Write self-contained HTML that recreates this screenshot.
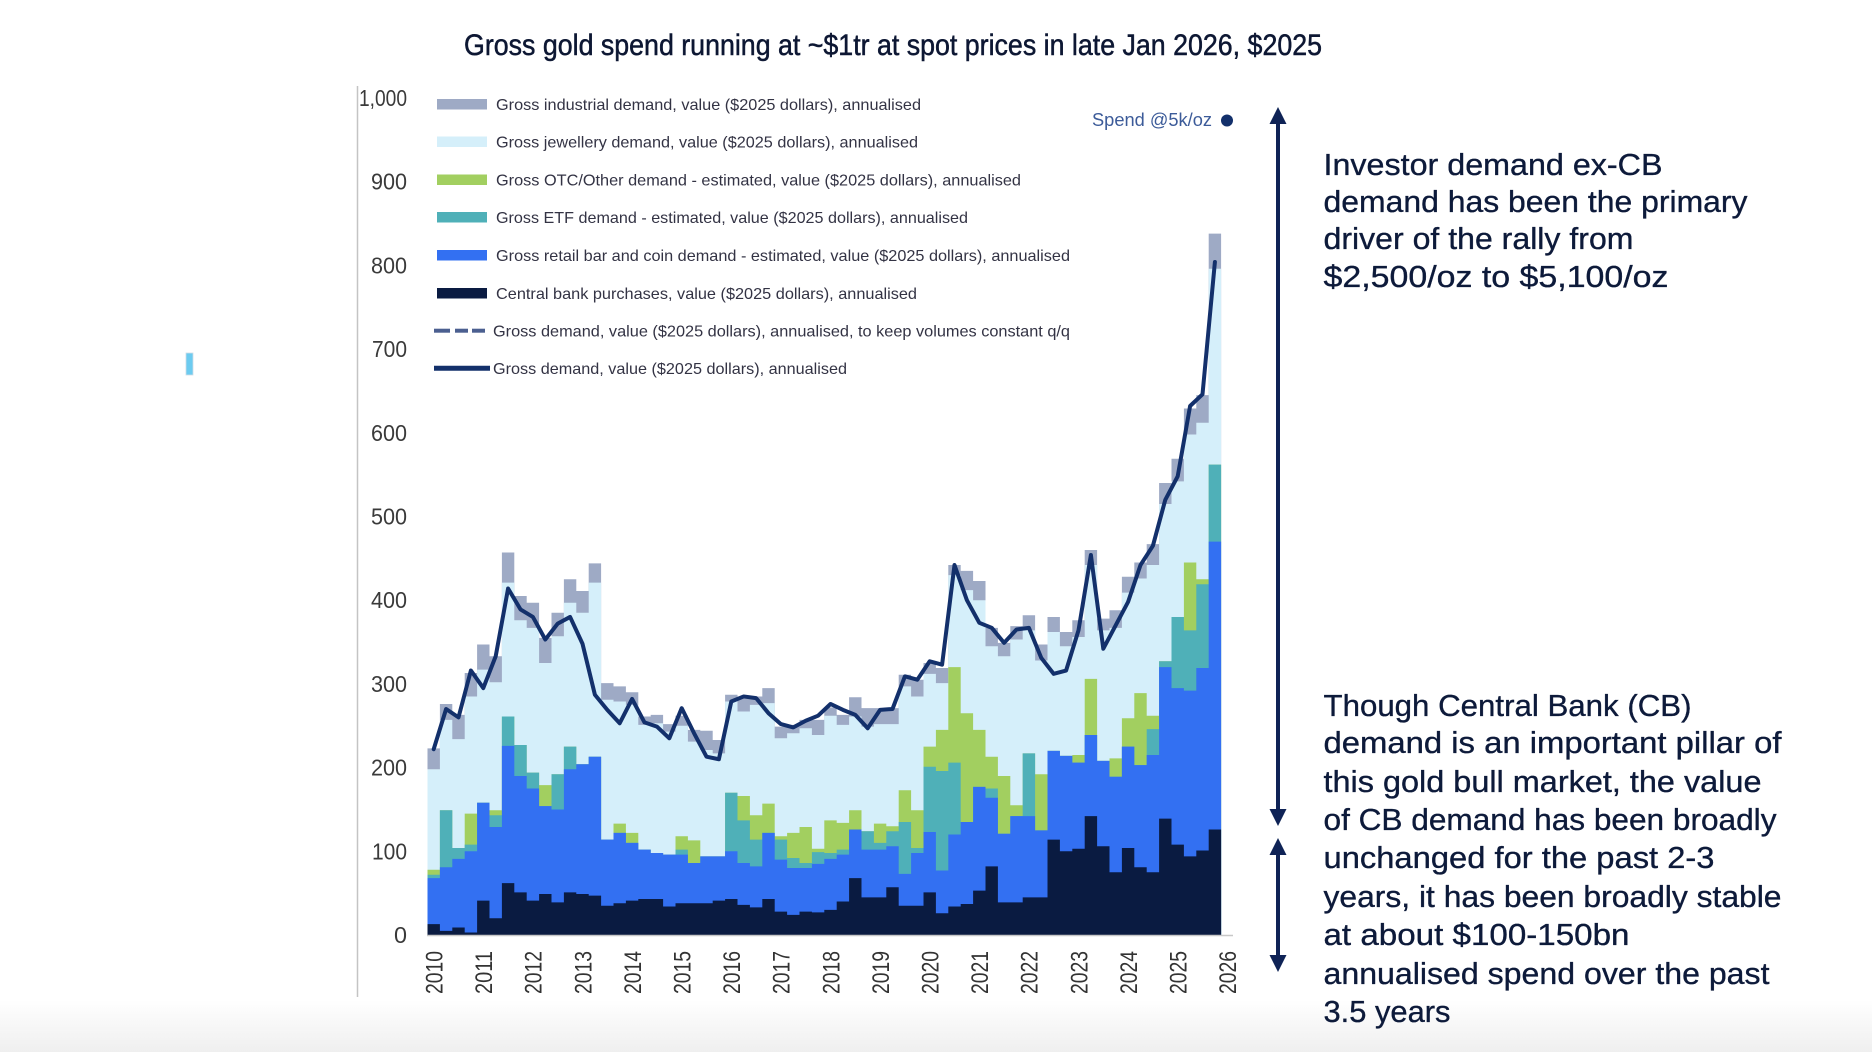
<!DOCTYPE html>
<html>
<head>
<meta charset="utf-8">
<style>
html,body{margin:0;padding:0;background:#ffffff;}
body{width:1872px;height:1052px;overflow:hidden;}
svg{display:block;}
</style>
</head>
<body>
<svg width="1872" height="1052" viewBox="0 0 1872 1052" xmlns="http://www.w3.org/2000/svg">
  <defs>
    <linearGradient id="bot" x1="0" y1="0" x2="0" y2="1">
      <stop offset="0" stop-color="#ffffff"/>
      <stop offset="0.5" stop-color="#f7f7f7"/>
      <stop offset="1" stop-color="#efefef"/>
    </linearGradient>
  </defs>
  <rect x="0" y="0" width="1872" height="1052" fill="#ffffff"/>
  <rect x="0" y="1000" width="1872" height="52" fill="url(#bot)"/>

  <!-- small blue mark -->
  <rect x="186" y="353" width="7" height="22" fill="#6ccbf0" stroke="#cfdde6" stroke-width="0.8"/>

  <!-- Title -->
  <text x="464" y="55" font-family="Liberation Sans, sans-serif" font-size="30" fill="#0d1733" stroke="#0d1733" stroke-width="0.5" textLength="858" lengthAdjust="spacingAndGlyphs">Gross gold spend running at ~$1tr at spot prices in late Jan 2026, $2025</text>

  <!-- Y axis line -->
  <line x1="357.5" y1="86" x2="357.5" y2="997" stroke="#c4c4c4" stroke-width="1.5"/>

  <!-- Y labels -->
  <g font-family="Liberation Sans, sans-serif" font-size="23" fill="#3a3a3a" text-anchor="end">
    <text x="407" y="943" textLength="13" lengthAdjust="spacingAndGlyphs">0</text>
    <text x="407" y="859.3" textLength="35" lengthAdjust="spacingAndGlyphs">100</text>
    <text x="407" y="775.6" textLength="36" lengthAdjust="spacingAndGlyphs">200</text>
    <text x="407" y="691.9" textLength="36" lengthAdjust="spacingAndGlyphs">300</text>
    <text x="407" y="608.2" textLength="36" lengthAdjust="spacingAndGlyphs">400</text>
    <text x="407" y="524.5" textLength="36" lengthAdjust="spacingAndGlyphs">500</text>
    <text x="407" y="440.8" textLength="36" lengthAdjust="spacingAndGlyphs">600</text>
    <text x="407" y="357.1" textLength="35" lengthAdjust="spacingAndGlyphs">700</text>
    <text x="407" y="273.4" textLength="36" lengthAdjust="spacingAndGlyphs">800</text>
    <text x="407" y="189.7" textLength="36" lengthAdjust="spacingAndGlyphs">900</text>
    <text x="407" y="106" textLength="48" lengthAdjust="spacingAndGlyphs">1,000</text>
  </g>

  <!-- Bars -->
  <g transform="translate(427.5 935) scale(12.4 -0.837)">
    <path fill="#9eaac5" d="M0 0V223H1V276H2V263H3V313H4V347H5V333H6V457H7V405H8V397H9V355H10V385H11V425H12V411H13V444H14V301H15V297H16V290H17V261H18V263H19V252H20V262H21V245H22V244H23V233H24V287H25V285H26V285H27V295H28V249H29V251H30V257H31V257H32V272H33V263H34V284H35V271H36V271H37V271H38V311H39V305H40V325H41V319H42V442H43V435H44V423H45V367H46V349H47V369H48V382H49V347H50V380H51V362H52V376H53V460H54V378H55V388H56V428H57V445H58V467H59V540H60V569H61V629H62V645H63V838H64V0Z"/>
    <path fill="#d5effa" d="M0 0V198H1V257H2V234H3V285H4V317H5V302H6V421H7V376H8V367H9V325H10V357H11V397H12V385H13V421H14V281H15V279H16V275H17V251H18V253H19V243H20V250H21V231H22V221H23V217H24V279H25V267H26V275H27V277H28V235H29V241H30V247H31V239H32V262H33V251H34V261H35V249H36V252H37V252H38V297H39V285H40V312H41V301H42V430H43V412H44V400H45V345H46V333H47V353H48V364H49V328H50V362H51V345H52V356H53V442H54V364H55V367H56V409H57V426H58V442H59V515H60V542H61V598H62V612H63V796H64V0Z"/>
    <path fill="#a2cf60" d="M0 0V78H1V149H2V104H3V145H4V158H5V149H6V261H7V227H8V194H9V179H10V192H11V225H12V204H13V213H14V114H15V133H16V122H17V102H18V98H19V96H20V118H21V113H22V94H23V94H24V170H25V166H26V143H27V157H28V118H29V122H30V129H31V103H32V137H33V134H34V149H35V124H36V133H37V130H38V173H39V149H40V225H41V245H42V320H43V265H44V245H45V213H46V190H47V155H48V217H49V192H50V220H51V214H52V215H53V306H54V208H55V211H56V259H57V289H58V262H59V327H60V380H61V445H62V425H63V562H64V0Z"/>
    <path fill="#4fb0b8" d="M0 0V72H1V149H2V104H3V108H4V158H5V143H6V261H7V227H8V194H9V154H10V192H11V225H12V204H13V213H14V114H15V122H16V110H17V102H18V98H19V96H20V102H21V86H22V94H23V94H24V170H25V137H26V114H27V122H28V114H29V92H30V86H31V99H32V98H33V102H34V126H35V124H36V110H37V124H38V135H39V104H40V201H41V196H42V206H43V135H44V177H45V175H46V121H47V142H48V217H49V125H50V220H51V214H52V206H53V239H54V208H55V189H56V225H57V203H58V246H59V327H60V380H61V364H62V419H63V562H64V0Z"/>
    <path fill="#3370f2" d="M0 0V68H1V81H2V91H3V100H4V158H5V129H6V226H7V190H8V175H9V154H10V150H11V198H12V204H13V213H14V114H15V122H16V110H17V102H18V98H19V96H20V96H21V86H22V94H23V94H24V100H25V86H26V82H27V122H28V90H29V80H30V80H31V85H32V91H33V96H34V126H35V102H36V102H37V106H38V73H39V98H40V123H41V77H42V120H43V135H44V177H45V164H46V121H47V142H48V142H49V125H50V220H51V214H52V206H53V239H54V208H55V189H56V225H57V203H58V215H59V320H60V295H61V292H62V319H63V470H64V0Z"/>
    <path fill="#0a1b41" d="M0 0V13H1V5H2V9H3V3H4V41H5V20H6V62H7V51H8V41H9V49H10V39H11V51H12V49H13V47H14V35H15V38H16V41H17V43H18V43H19V34H20V38H21V38H22V38H23V41H24V43H25V36H26V33H27V43H28V28H29V24H30V28H31V27H32V30H33V40H34V68H35V45H36V45H37V57H38V35H39V35H40V51H41V26H42V34H43V37H44V53H45V82H46V39H47V39H48V45H49V45H50V114H51V100H52V103H53V142H54V106H55V75H56V104H57V81H58V75H59V139H60V108H61V94H62V101H63V126H64V0Z"/>
    <polyline fill="none" stroke="#13306b" stroke-width="4" stroke-linejoin="round" stroke-linecap="round" vector-effect="non-scaling-stroke"
      points="0.5,222 1.5,270 2.5,260 3.5,316 4.5,295 5.5,333 6.5,414 7.5,389 8.5,380 9.5,353 10.5,372 11.5,380 12.5,348 13.5,287 14.5,269 15.5,253 16.5,282 17.5,254 18.5,249 19.5,235 20.5,271 21.5,241 22.5,213 23.5,210 24.5,279 25.5,285 26.5,283 27.5,265 28.5,252 29.5,248 30.5,256 31.5,262 32.5,276 33.5,269 34.5,263 35.5,247 36.5,269 37.5,270 38.5,309 39.5,305 40.5,327 41.5,323 42.5,442 43.5,400 44.5,373 45.5,367 46.5,349 47.5,365 48.5,367 49.5,331 50.5,312 51.5,316 52.5,364 53.5,454 54.5,342 55.5,370 56.5,398 57.5,442 58.5,465 59.5,520 60.5,548 61.5,632 62.5,646 63.5,804"/>
  </g>

  <!-- X baseline -->
  <line x1="427" y1="935.5" x2="1233" y2="935.5" stroke="#c8c8c8" stroke-width="1.5"/>

  <!-- X labels -->
  <g font-family="Liberation Sans, sans-serif" font-size="24" fill="#333333" text-anchor="end">
    <text transform="translate(442.5 951) rotate(-90)" textLength="43" lengthAdjust="spacingAndGlyphs">2010</text>
    <text transform="translate(492.1 951) rotate(-90)" textLength="43" lengthAdjust="spacingAndGlyphs">2011</text>
    <text transform="translate(541.7 951) rotate(-90)" textLength="43" lengthAdjust="spacingAndGlyphs">2012</text>
    <text transform="translate(591.3 951) rotate(-90)" textLength="43" lengthAdjust="spacingAndGlyphs">2013</text>
    <text transform="translate(640.9 951) rotate(-90)" textLength="43" lengthAdjust="spacingAndGlyphs">2014</text>
    <text transform="translate(690.5 951) rotate(-90)" textLength="43" lengthAdjust="spacingAndGlyphs">2015</text>
    <text transform="translate(740.1 951) rotate(-90)" textLength="43" lengthAdjust="spacingAndGlyphs">2016</text>
    <text transform="translate(789.7 951) rotate(-90)" textLength="43" lengthAdjust="spacingAndGlyphs">2017</text>
    <text transform="translate(839.3 951) rotate(-90)" textLength="43" lengthAdjust="spacingAndGlyphs">2018</text>
    <text transform="translate(888.9 951) rotate(-90)" textLength="43" lengthAdjust="spacingAndGlyphs">2019</text>
    <text transform="translate(938.5 951) rotate(-90)" textLength="43" lengthAdjust="spacingAndGlyphs">2020</text>
    <text transform="translate(988.1 951) rotate(-90)" textLength="43" lengthAdjust="spacingAndGlyphs">2021</text>
    <text transform="translate(1037.7 951) rotate(-90)" textLength="43" lengthAdjust="spacingAndGlyphs">2022</text>
    <text transform="translate(1087.3 951) rotate(-90)" textLength="43" lengthAdjust="spacingAndGlyphs">2023</text>
    <text transform="translate(1136.9 951) rotate(-90)" textLength="43" lengthAdjust="spacingAndGlyphs">2024</text>
    <text transform="translate(1186.5 951) rotate(-90)" textLength="43" lengthAdjust="spacingAndGlyphs">2025</text>
    <text transform="translate(1236.1 951) rotate(-90)" textLength="43" lengthAdjust="spacingAndGlyphs">2026</text>
  </g>

  <!-- Legend -->
  <g>
    <rect x="437" y="99" width="50" height="10.5" fill="#9eaac5"/>
    <rect x="437" y="136.5" width="50" height="10.5" fill="#d5effa"/>
    <rect x="437" y="174.5" width="50" height="10.5" fill="#a2cf60"/>
    <rect x="437" y="212" width="50" height="10.5" fill="#4fb0b8"/>
    <rect x="437" y="250" width="50" height="10.5" fill="#3370f2"/>
    <rect x="437" y="288" width="50" height="10.5" fill="#0a1b41"/>
    <line x1="434" y1="330.7" x2="450" y2="330.7" stroke="#4b5f90" stroke-width="4"/>
    <line x1="455" y1="330.7" x2="468" y2="330.7" stroke="#4b5f90" stroke-width="4"/>
    <line x1="472" y1="330.7" x2="485" y2="330.7" stroke="#4b5f90" stroke-width="4"/>
    <line x1="434" y1="368.3" x2="490" y2="368.3" stroke="#13306b" stroke-width="5"/>
  </g>
  <g font-family="Liberation Sans, sans-serif" font-size="16" fill="#333344">
    <text x="496" y="110" textLength="425" lengthAdjust="spacingAndGlyphs">Gross industrial demand, value ($2025 dollars), annualised</text>
    <text x="496" y="147.5" textLength="422" lengthAdjust="spacingAndGlyphs">Gross jewellery demand, value ($2025 dollars), annualised</text>
    <text x="496" y="185.5" textLength="525" lengthAdjust="spacingAndGlyphs">Gross OTC/Other demand - estimated, value ($2025 dollars), annualised</text>
    <text x="496" y="223" textLength="472" lengthAdjust="spacingAndGlyphs">Gross ETF demand - estimated, value ($2025 dollars), annualised</text>
    <text x="496" y="261" textLength="574" lengthAdjust="spacingAndGlyphs">Gross retail bar and coin demand - estimated, value ($2025 dollars), annualised</text>
    <text x="496" y="299" textLength="421" lengthAdjust="spacingAndGlyphs">Central bank purchases, value ($2025 dollars), annualised</text>
    <text x="493" y="336.5" textLength="577" lengthAdjust="spacingAndGlyphs">Gross demand, value ($2025 dollars), annualised, to keep volumes constant q/q</text>
    <text x="493" y="374" textLength="354" lengthAdjust="spacingAndGlyphs">Gross demand, value ($2025 dollars), annualised</text>
  </g>

  <!-- Spend @5k/oz -->
  <text x="1092" y="126" font-family="Liberation Sans, sans-serif" font-size="18" fill="#3c5b99" textLength="120" lengthAdjust="spacingAndGlyphs">Spend @5k/oz</text>
  <circle cx="1227" cy="120.5" r="6" fill="#13306b"/>

  <!-- Arrows -->
  <g fill="#0f2356" stroke="none">
    <rect x="1276" y="120" width="4" height="694"/>
    <polygon points="1278,107 1269.5,124 1286.5,124"/>
    <polygon points="1278,826 1269.5,809 1286.5,809"/>
    <rect x="1276" y="850" width="4" height="108"/>
    <polygon points="1278,838 1269.5,855 1286.5,855"/>
    <polygon points="1278,972 1269.5,955 1286.5,955"/>
  </g>

  <!-- Right annotations -->
  <g font-family="Liberation Sans, sans-serif" font-size="31" fill="#0d1a3a" stroke="#0d1a3a" stroke-width="0.35">
    <text x="1323.5" y="175" textLength="339" lengthAdjust="spacingAndGlyphs">Investor demand ex-CB</text>
    <text x="1323.5" y="212" textLength="424" lengthAdjust="spacingAndGlyphs">demand has been the primary</text>
    <text x="1323.5" y="249" textLength="310" lengthAdjust="spacingAndGlyphs">driver of the rally from</text>
    <text x="1323.5" y="287" textLength="345" lengthAdjust="spacingAndGlyphs">$2,500/oz to $5,100/oz</text>

    <text x="1323.5" y="716" textLength="368" lengthAdjust="spacingAndGlyphs">Though Central Bank (CB)</text>
    <text x="1323.5" y="753" textLength="458" lengthAdjust="spacingAndGlyphs">demand is an important pillar of</text>
    <text x="1323.5" y="792" textLength="438" lengthAdjust="spacingAndGlyphs">this gold bull market, the value</text>
    <text x="1323.5" y="830" textLength="453" lengthAdjust="spacingAndGlyphs">of CB demand has been broadly</text>
    <text x="1323.5" y="868" textLength="391" lengthAdjust="spacingAndGlyphs">unchanged for the past 2-3</text>
    <text x="1323.5" y="907" textLength="458" lengthAdjust="spacingAndGlyphs">years, it has been broadly stable</text>
    <text x="1323.5" y="945" textLength="306" lengthAdjust="spacingAndGlyphs">at about $100-150bn</text>
    <text x="1323.5" y="984" textLength="446" lengthAdjust="spacingAndGlyphs">annualised spend over the past</text>
    <text x="1323.5" y="1022" textLength="127" lengthAdjust="spacingAndGlyphs">3.5 years</text>
  </g>
</svg>
</body>
</html>
